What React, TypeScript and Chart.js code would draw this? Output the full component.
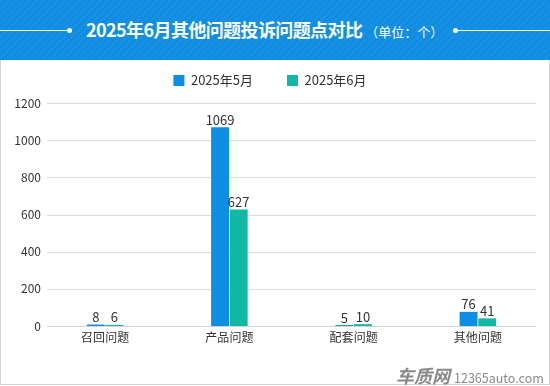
import React, { useEffect, useRef } from "react";
import { Chart, registerables } from "chart.js";

Chart.register(...registerables);

const categories = ["召回问题", "产品问题", "配套问题", "其他问题"];
const seriesNames = ["2025年5月", "2025年6月"];
const may2025 = [8, 1069, 5, 76];
const jun2025 = [6, 627, 10, 41];
const yTicks = [0, 200, 400, 600, 800, 1000, 1200];
const colors = ["#0b8fe4", "#12b8a3"];

const FONT = "'Microsoft YaHei', 'Noto Sans CJK SC', 'Noto Sans', sans-serif";

const valueLabels = {
  id: "valueLabels",
  beforeInit(chart: any) {
    const legend = chart.legend;
    if (legend && !legend.__patched) {
      const orig = legend.fit;
      legend.fit = function () {
        orig.call(this);
        this.height += 6;
      };
      legend.__patched = true;
    }
  },
  beforeDatasetsDraw(chart: any) {
    const ctx = chart.ctx;
    const y = chart.scales.y;
    ctx.save();
    ctx.strokeStyle = "#dcdcdc";
    ctx.lineWidth = 1;
    yTicks.forEach((v) => {
      if (v === 0) return;
      const py = Math.round(y.getPixelForValue(v)) + 0.5;
      ctx.beginPath();
      ctx.moveTo(47, py);
      ctx.lineTo(536, py);
      ctx.stroke();
    });
    const p0 = Math.round(y.getPixelForValue(0)) + 0.5;
    ctx.strokeStyle = "#d4d4d4";
    ctx.beginPath();
    ctx.moveTo(47, p0);
    ctx.lineTo(536, p0);
    ctx.stroke();
    ctx.restore();
  },
  afterDatasetsDraw(chart: any) {
    const ctx = chart.ctx;
    ctx.save();
    ctx.fillStyle = "#333";
    ctx.font = `13px ${FONT}`;
    ctx.textAlign = "center";
    ctx.textBaseline = "bottom";
    chart.data.datasets.forEach((ds: any, i: number) => {
      const meta = chart.getDatasetMeta(i);
      meta.data.forEach((bar: any, j: number) => {
        ctx.fillText(String(ds.data[j]), bar.x, bar.y - 1);
      });
    });
    ctx.restore();
  },
};

export default function App() {
  const ref = useRef<HTMLCanvasElement>(null);
  useEffect(() => {
    document.body.style.margin = "0";
    const chart = new Chart(ref.current!, {
      type: "bar",
      data: {
        labels: categories,
        datasets: [
          { label: seriesNames[0], data: may2025, backgroundColor: colors[0], categoryPercentage: 0.3, barPercentage: 0.96 },
          { label: seriesNames[1], data: jun2025, backgroundColor: colors[1], categoryPercentage: 0.3, barPercentage: 0.96 },
        ],
      },
      options: {
        animation: false,
        responsive: false,
        maintainAspectRatio: false,
        layout: { padding: { top: -20, right: 10, left: 0, bottom: 0 } },
        plugins: {
          legend: {
            position: "top",
            labels: {
              boxWidth: 11,
              boxHeight: 11,
              padding: 34,
              color: "#333",
              font: { size: 13, family: FONT },
            },
          },
          tooltip: { enabled: false },
        },
        scales: {
          x: {
            grid: { display: false, drawTicks: false },
            border: { display: false },
            ticks: { color: "#333", font: { size: 12, family: FONT }, padding: 4 },
            afterFit(scale: any) { scale.height = 60; },
          },
          y: {
            min: 0,
            max: 1200,
            afterBuildTicks(scale: any) { scale.ticks = yTicks.map((v) => ({ value: v })); },
            grid: { display: false, drawTicks: false },
            border: { display: false },
            ticks: { color: "#333", font: { size: 12, family: FONT }, padding: 2, callback: (v: any) => String(v) },
            afterFit(scale: any) { scale.width = 43; },
          },
        },
      },
      plugins: [valueLabels],
    });
    return () => chart.destroy();
  }, []);

  return (
    <div style={{ position: "fixed", left: 0, top: 0, width: 550, height: 386, background: "#fff", overflow: "hidden", fontFamily: FONT }}>
      <div
        style={{
          position: "absolute", left: 0, top: 0, width: 550, height: 60,
          background: "repeating-linear-gradient(135deg, #1590e2 0px, #1590e2 3px, #0f8bdf 3px, #0f8bdf 5px)",
        }}
      >
        <div style={{ position: "absolute", left: 0, top: 30, width: 70, height: 1, background: "#fff" }} />
        <div style={{ position: "absolute", left: 67, top: 28, width: 5, height: 5, borderRadius: 3, background: "#fff" }} />
        <div style={{ position: "absolute", left: 456, top: 30, width: 94, height: 1, background: "#fff" }} />
        <div style={{ position: "absolute", left: 453, top: 28, width: 5, height: 5, borderRadius: 3, background: "#fff" }} />
        <div style={{ position: "absolute", left: 86, top: 16, whiteSpace: "nowrap", color: "#fff" }}>
          <span style={{ fontSize: 18, fontWeight: "bold", letterSpacing: -0.6 }}>2025年6月其他问题投诉问题点对比</span>
          <span style={{ fontSize: 13, marginLeft: 3 }}>（单位：个）</span>
        </div>
      </div>
      <div style={{ position: "absolute", left: 0, top: 60, width: 548, height: 324, borderLeft: "1px solid #d4d4d4", borderRight: "1px solid #d4d4d4", borderBottom: "1px solid #d4d4d4" }} />
      <canvas ref={ref} width={550} height={326} style={{ position: "absolute", left: 0, top: 60, width: 550, height: 326 }} />
      <div style={{ position: "absolute", left: 396, top: 362, whiteSpace: "nowrap", color: "#8a8a8a" }}>
        <span style={{ fontSize: 18, fontWeight: "bold", fontStyle: "italic" }}>车质网</span>
        <span style={{ fontSize: 12.5, marginLeft: 4 }}>12365auto.com</span>
      </div>
    </div>
  );
}
